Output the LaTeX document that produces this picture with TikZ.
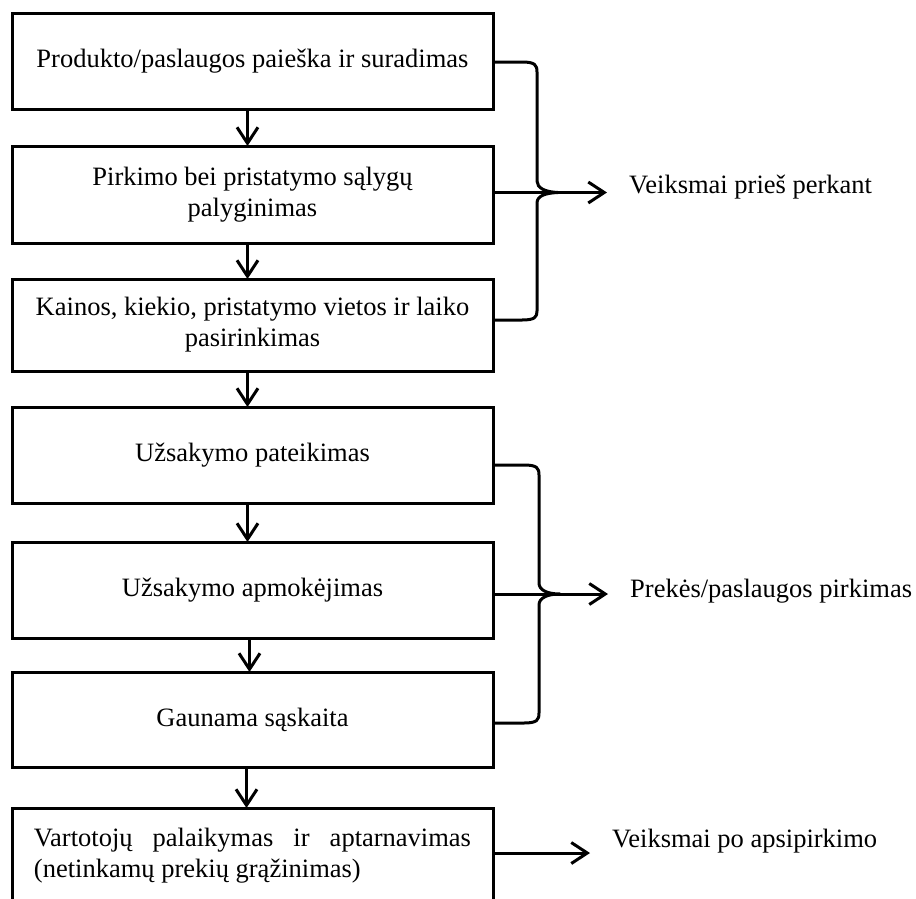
\documentclass[tikz,border=0pt]{standalone}
\usepackage{fontspec}
\setmainfont{Liberation Serif}
\usetikzlibrary{arrows.meta}
\begin{document}
\begin{tikzpicture}[x=1pt,y=-1pt,
  box/.style={draw, line width=3pt, minimum width=481pt, outer sep=0pt, inner sep=0pt,
    align=center, font=\fontsize{26.5}{31}\selectfont},
  conn/.style={line width=3pt, -{Straight Barb[length=16pt,width=21pt]}},
  brace/.style={line width=3pt, line join=round},
  lbl/.style={anchor=base west, inner sep=0pt, font=\fontsize{26.5}{31}\selectfont}]
\useasboundingbox (0,0) rectangle (916,898);

\node[box, minimum height=96pt] (b1) at (252.5,61) {Produkto/paslaugos paieška ir suradimas};
\node[box, minimum height=97pt] (b2) at (252.5,194.5) {Pirkimo bei pristatymo sąlygų\\palyginimas};
\node[box, minimum height=92pt] (b3) at (252.5,325) {Kainos, kiekio, pristatymo vietos ir laiko\\pasirinkimas};
\node[box, minimum height=96pt] (b4) at (252.5,455) {Užsakymo pateikimas};
\node[box, minimum height=96pt] (b5) at (252.5,590) {Užsakymo apmokėjimas};
\node[box, minimum height=95pt] (b6) at (252.5,719.5) {Gaunama sąskaita};
\node[box, minimum height=96pt, align=left] (b7) at (252.5,856) {\makebox[437pt][s]{Vartotojų palaikymas ir aptarnavimas}\\(netinkamų prekių grąžinimas)};

\draw[conn] ([xshift=-5pt]b1.south) -- ([xshift=-5pt]b2.north);
\draw[conn] ([xshift=-5pt]b2.south) -- ([xshift=-5pt]b3.north);
\draw[conn] ([xshift=-5pt]b3.south) -- ([xshift=-5pt]b4.north);
\draw[conn] ([xshift=-5pt]b4.south) -- ([xshift=-5pt]b5.north);
\draw[conn] ([xshift=-3pt]b5.south) -- ([xshift=-3pt]b6.north);
\draw[conn] ([xshift=-6pt]b6.south) -- ([xshift=-6pt]b7.north);

\node[lbl] (l1) at (629,193) {Veiksmai prieš perkant};
\node[lbl] (l2) at (630,597) {Prekės/paslaugos pirkimas};
\node[lbl] (l3) at (612,847) {Veiksmai po apsipirkimo};
\coordinate (t1) at (607,192.5);
\coordinate (t2) at (608,594);
\coordinate (t3) at (590,853);

\draw[conn] ([yshift=2pt]b2.east) -- (t1);
\draw[conn] ([yshift=-4pt]b5.east) -- (t2);
\draw[conn] ([yshift=3pt]b7.east) -- (t3);

\draw[brace] ([yshift=-1pt]b1.east) -- (522,62) .. controls (535,62) and (537,65) .. (537,72)
  -- (537,181) .. controls (537,188) and (545,192) .. (558,192.5)
  .. controls (545,193) and (537,196) .. (537,203)
  -- (537,311) .. controls (537,317) and (535,320) .. (522,320) -- ([yshift=5pt]b3.east);

\draw[brace] ([yshift=-10pt]b4.east) -- (524,465) .. controls (537,465) and (539,468) .. (539,475)
  -- (539,583) .. controls (539,590) and (547,594) .. (560,594)
  .. controls (547,594) and (539,598) .. (539,605)
  -- (539,713) .. controls (539,720) and (537,723) .. (524,723) -- ([yshift=-3.5pt]b6.east);
\end{tikzpicture}
\end{document}
